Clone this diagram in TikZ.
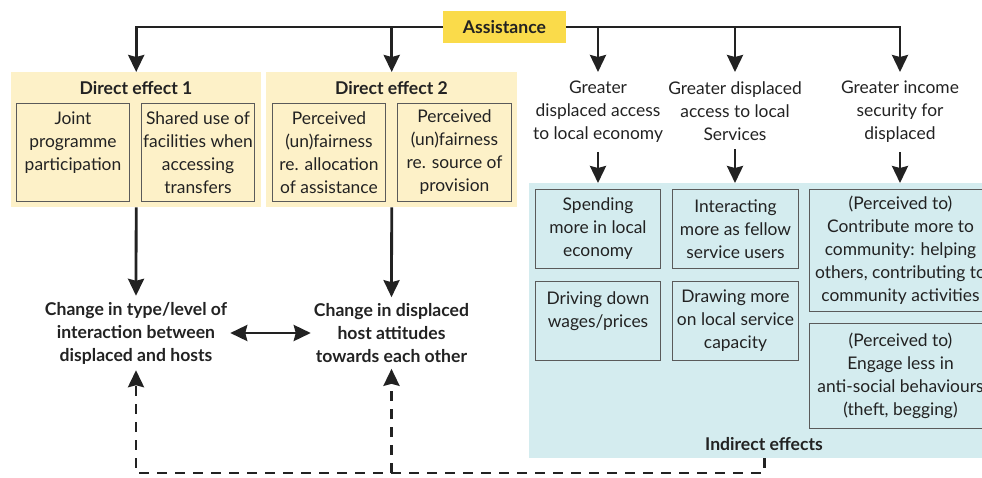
\documentclass[tikz,border=0pt]{standalone}
\usepackage{fontspec}
\setmainfont{Lato}
\usetikzlibrary{arrows.meta, positioning}
\definecolor{assistyellow}{HTML}{FADB4A}
\definecolor{directbg}{HTML}{FDF1C8}
\definecolor{indirectbg}{HTML}{D4ECEF}
\definecolor{boxline}{HTML}{5A5A5A}
\definecolor{ink}{HTML}{222222}

\tikzset{
  flow/.style={-{Stealth[length=17pt,width=16pt,inset=2pt]}, line width=2.8pt, draw=ink},
  dashflow/.style={flow, dash pattern=on 10pt off 8pt},
  panel/.style={anchor=north west, inner sep=0pt},
  effectbox/.style={draw=boxline, line width=1pt, inner sep=0pt, align=center, anchor=north west,
    font=\fontsize{17.4}{23}\selectfont, text=ink},
  plain/.style={align=center, inner xsep=3pt, inner ysep=9pt, font=\fontsize{17.4}{23}\selectfont, text=ink},
  heading/.style={align=center, inner sep=3pt, font=\bfseries\fontsize{17.6}{23}\selectfont, text=ink}
}

\begin{document}
\begin{tikzpicture}[x=1pt,y=-1pt]
  \useasboundingbox (0,0) rectangle (982,477);
  \clip (0,0) rectangle (982,477);

  % panels
  \node[panel, fill=directbg, minimum width=250pt, minimum height=135pt] (direct1) at (11,72) {};
  \node[panel, fill=directbg, minimum width=251pt, minimum height=135pt] (direct2) at (266,72) {};
  \node[panel, fill=indirectbg, minimum width=470pt, minimum height=275pt] (indirect) at (529,183) {};

  \node[fill=assistyellow, minimum width=123pt, minimum height=32pt, inner sep=0pt,
        font=\bfseries\fontsize{17.6}{20}\selectfont, text=ink] (assist) at (504.5,27) {Assistance};

  \node[heading] (title1) at (136,88) {Direct effect 1};
  \node[heading] (title2) at (391.5,88) {Direct effect 2};

  % direct effect boxes
  \node[effectbox, minimum width=113pt, minimum height=98pt] (joint) at (16,103)
    {Joint\\programme\\participation\\~};
  \node[effectbox, minimum width=113pt, minimum height=98pt] (shared) at (141,103)
    {Shared use of\\facilities when\\accessing\\transfers};
  \node[effectbox, minimum width=113pt, minimum height=98pt] (alloc) at (272,103)
    {Perceived\\(un)fairness\\re. allocation\\of assistance};
  \node[effectbox, minimum width=114pt, minimum height=98pt] (source) at (397,103)
    {Perceived\\(un)fairness\\re. source of\\provision};

  % channels
  \node[plain, anchor=north] (economy) at (598,72) {Greater\\displaced access\\to local economy};
  \node[plain, anchor=north] (services) at (735,72) {Greater displaced\\access to local\\Services};
  \node[plain, anchor=north] (income) at (900,72) {Greater income\\security for\\displaced};

  % indirect effect boxes
  \node[effectbox, minimum width=125pt, minimum height=79pt] (spending) at (535,189)
    {Spending\\more in local\\economy};
  \node[effectbox, minimum width=125pt, minimum height=79pt] (wages) at (535,281)
    {Driving down\\wages/prices\\~};
  \node[effectbox, minimum width=126pt, minimum height=79pt] (fellow) at (672,189)
    {Interacting\\more as fellow\\service users};
  \node[effectbox, minimum width=126pt, minimum height=79pt] (capacity) at (672,281)
    {Drawing more\\on local service\\capacity};
  \node[effectbox, minimum width=182pt, minimum height=122pt] (contribute) at (809,189)
    {(Perceived to)\\Contribute more to\\community: helping\\others, contributing to\\community activities};
  \node[effectbox, minimum width=182pt, minimum height=105pt] (antisocial) at (809,323)
    {(Perceived to)\\Engage less in\\anti-social behaviours\\(theft, begging)};

  \node[heading] (indirlabel) at (764,444) {Indirect effects};

  % outcomes
  \node[heading, inner ysep=6pt] (change1) at (136,333)
    {Change in type/level of\\interaction between\\displaced and hosts};
  \node[heading, inner ysep=6pt] (change2) at (391.5,333)
    {Change in displaced\\host attitudes\\towards each other};

  % arrows from assistance
  \draw[flow] (assist.west) -| (direct1.north);
  \draw[flow] (assist.west) -| (direct2.north);
  \draw[flow] (assist.east) -| (economy.north);
  \draw[flow] (assist.east) -| (services.north);
  \draw[flow] (assist.east) -| (income.north);

  \draw[flow] (economy.south) -- (economy.south |- indirect.north);
  \draw[flow] (services.south) -- (services.south |- indirect.north);
  \draw[flow] (income.south) -- (income.south |- indirect.north);

  \draw[flow] (direct1.south) -- (change1.north);
  \draw[flow] (direct2.south) -- (change2.north);
  \draw[flow, {Stealth[length=17pt,width=16pt,inset=2pt]}-{Stealth[length=17pt,width=16pt,inset=2pt]}]
    (change1.east) -- (change2.west);

  % feedback from indirect effects
  \coordinate (dashrow) at (0,473);
  \draw[dashflow] (indirect.south) |- (change1.south |- dashrow) -- (change1.south);
  \draw[dashflow] (change2.south |- dashrow) -- (change2.south);
\end{tikzpicture}
\end{document}
